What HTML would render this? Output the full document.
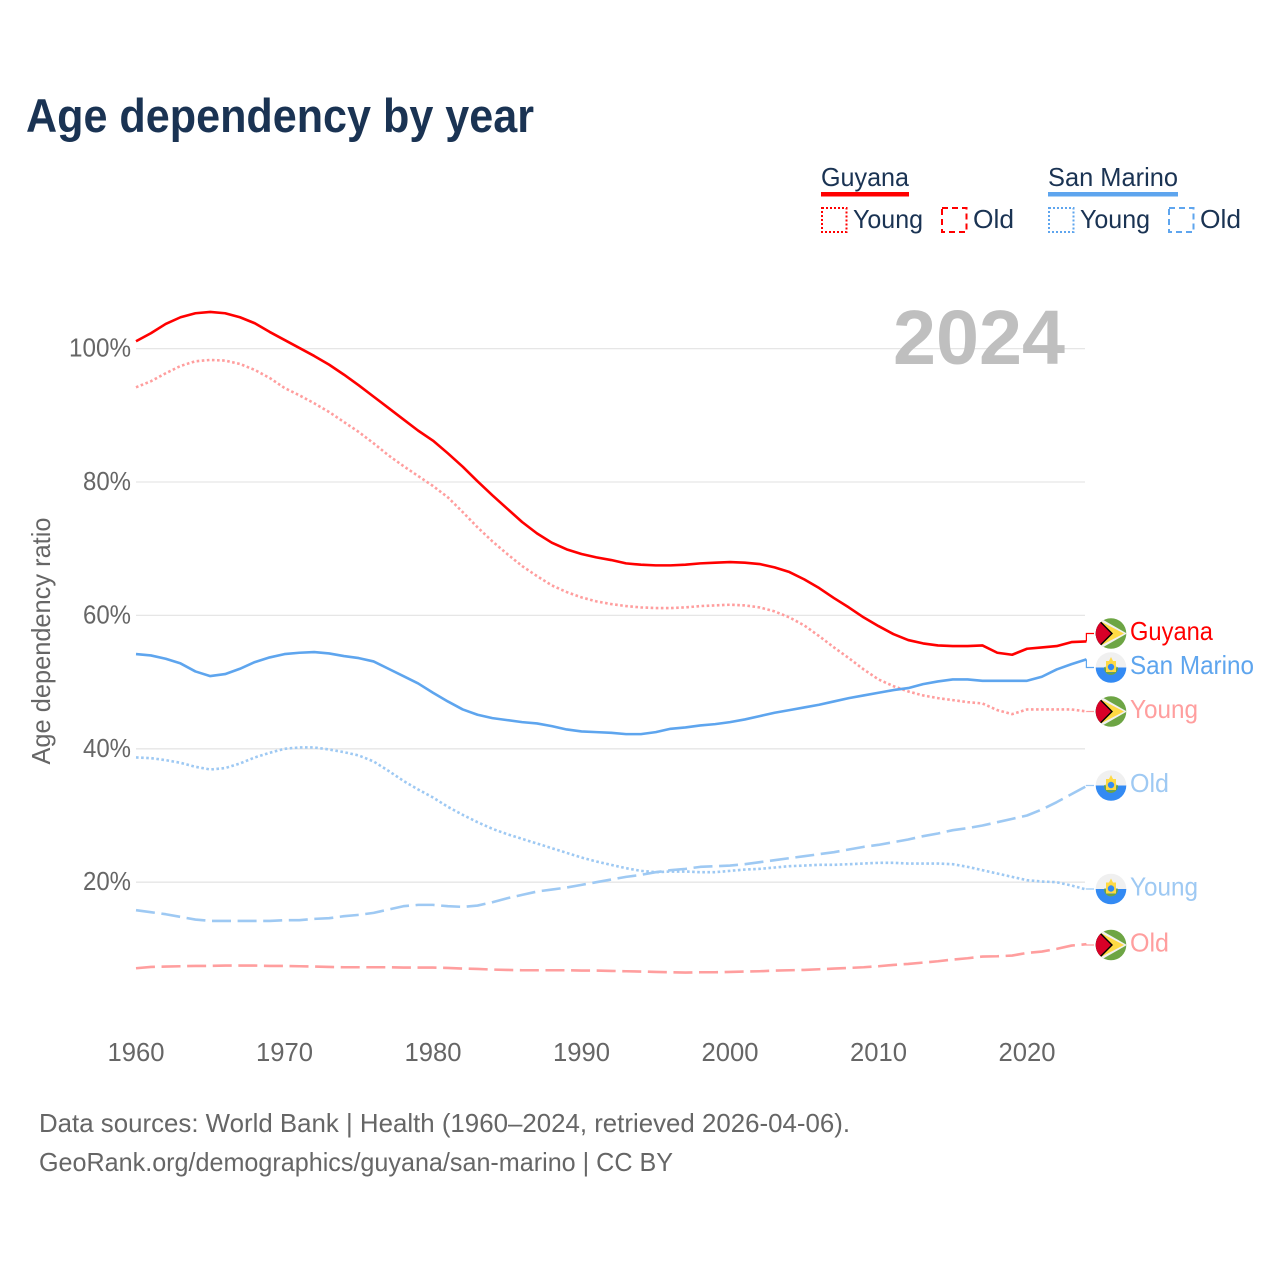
<!DOCTYPE html>
<html lang="en">
<head>
<meta charset="utf-8">
<title>Age dependency by year</title>
<style>
html,body{margin:0;padding:0;background:#fff;}
svg{display:block;font-family:"Liberation Sans",sans-serif;}
</style>
</head>
<body>
<svg id="chart" xmlns="http://www.w3.org/2000/svg" width="1280" height="1280" viewBox="0 0 1280 1280">
  <rect width="1280" height="1280" fill="#fff"/>
  <text x="26" y="132" font-size="47" font-weight="700" fill="#1a3353" textLength="508" lengthAdjust="spacingAndGlyphs">Age dependency by year</text>

  <g>
    <g>
      <text x="821" y="186" font-size="26" fill="#1a3353" textLength="88" lengthAdjust="spacingAndGlyphs">Guyana</text>
      <rect x="821" y="192" width="88" height="4.5" fill="#ff0000"/>
      <rect x="822" y="208" width="24.5" height="24" fill="none" stroke="#ff0000" stroke-width="2" stroke-dasharray="2 2"/>
      <text x="853" y="228" font-size="26" fill="#1a3353" textLength="70" lengthAdjust="spacingAndGlyphs">Young</text>
      <rect x="942" y="208" width="24.5" height="24" fill="none" stroke="#ff0000" stroke-width="2" stroke-dasharray="6 4"/>
      <text x="973" y="228" font-size="26" fill="#1a3353" textLength="41" lengthAdjust="spacingAndGlyphs">Old</text>
    </g>
    <g>
      <text x="1048" y="186" font-size="26" fill="#1a3353" textLength="130" lengthAdjust="spacingAndGlyphs">San Marino</text>
      <rect x="1048" y="192" width="130" height="4.5" fill="#5ea5ee"/>
      <rect x="1049" y="208" width="24.5" height="24" fill="none" stroke="#5ea5ee" stroke-width="2" stroke-dasharray="2 2"/>
      <text x="1080" y="228" font-size="26" fill="#1a3353" textLength="70" lengthAdjust="spacingAndGlyphs">Young</text>
      <rect x="1169" y="208" width="24.5" height="24" fill="none" stroke="#5ea5ee" stroke-width="2" stroke-dasharray="6 4"/>
      <text x="1200" y="228" font-size="26" fill="#1a3353" textLength="41" lengthAdjust="spacingAndGlyphs">Old</text>
    </g>
  </g>

  <g id="grid"></g>
  <g id="yticks"></g>
  <g id="xticks"></g>
  <text transform="translate(50,641) rotate(-90)" text-anchor="middle" font-size="26" fill="#666666" textLength="247" lengthAdjust="spacingAndGlyphs">Age dependency ratio</text>
  <text x="893" y="364" font-size="77" font-weight="700" fill="#bfbfbf" textLength="172" lengthAdjust="spacingAndGlyphs">2024</text>
  <g id="series"></g>

  <defs>
    <clipPath id="flag-clip"><circle cx="0" cy="0" r="15.3"/></clipPath>
    <g id="flag-guyana">
      <g clip-path="url(#flag-clip)">
        <rect x="-16" y="-16" width="32" height="32" fill="#6da544"/>
        <path d="M-12 -16 L16 0 L-12 16 Z" fill="#f0f0f0"/>
        <path d="M-12 -13 L13 0 L-12 13 Z" fill="#ffda44"/>
        <path d="M-16 -14 L-12 -14 L2 0 L-12 14 L-16 14 Z" fill="#000"/>
        <path d="M-16 -11 L-11 -11 L0 0 L-11 11 L-16 11 Z" fill="#d80027"/>
      </g>
    </g>
    <g id="flag-san-marino">
      <g clip-path="url(#flag-clip)">
        <rect x="-16" y="-16" width="32" height="16" fill="#f0f0f0"/>
        <rect x="-16" y="0" width="32" height="16" fill="#338af3"/>
        <path d="M-7 0 A7 7.5 0 0 0 7 0 L5.5 -1 A5.5 6 0 0 1 -5.5 -1 Z" fill="#6da544"/>
        <path d="M-5 -6.5 L-2 -6.5 L0 -10.5 L2 -6.5 L5 -6.5 L5 4.5 L-5 4.5 Z" fill="#ffda44"/>
        <circle cx="0" cy="-0.5" r="3.2" fill="#338af3"/>
      </g>
    </g>
  </defs>
  <g id="flags"></g>
  <g id="endlabels"></g>

  <g>
    <text x="39" y="1132" font-size="26" fill="#666666" textLength="811" lengthAdjust="spacingAndGlyphs">Data sources: World Bank | Health (1960–2024, retrieved 2026-04-06).</text>
    <text x="39" y="1171" font-size="26" fill="#666666" textLength="634" lengthAdjust="spacingAndGlyphs">GeoRank.org/demographics/guyana/san-marino | CC BY</text>
  </g>
</svg>

<script>
const firstYear = 1960;
const xTickYears = [1960, 1970, 1980, 1990, 2000, 2010, 2020];
const yTickValues = [20, 40, 60, 80, 100];

const guyanaTotal = [101.1,102.3,103.7,104.7,105.3,105.5,105.3,104.7,103.8,102.5,101.3,100.1,98.9,97.6,96.1,94.5,92.8,91.1,89.4,87.7,86.2,84.3,82.3,80.1,78,76,74,72.3,70.9,69.9,69.2,68.7,68.3,67.8,67.6,67.5,67.5,67.6,67.8,67.9,68,67.9,67.7,67.2,66.5,65.4,64.1,62.6,61.2,59.7,58.4,57.2,56.3,55.8,55.5,55.4,55.4,55.5,54.4,54.1,55,55.2,55.4,56,56.1];
const guyanaYoung = [94.2,95.1,96.3,97.4,98.1,98.3,98.2,97.7,96.8,95.6,94.1,93,91.8,90.5,89,87.5,85.8,84,82.4,80.9,79.4,77.7,75.5,73.2,71.1,69.2,67.4,65.9,64.5,63.5,62.7,62.1,61.7,61.4,61.2,61.1,61.1,61.2,61.4,61.5,61.6,61.5,61.2,60.6,59.7,58.5,56.9,55.2,53.6,51.9,50.4,49.4,48.6,48,47.6,47.3,47,46.8,45.8,45.2,45.9,45.9,45.9,45.9,45.6];
const guyanaOld = [7.1,7.3,7.35,7.4,7.45,7.45,7.5,7.5,7.5,7.45,7.45,7.4,7.35,7.3,7.25,7.25,7.25,7.25,7.2,7.2,7.2,7.15,7.05,7,6.9,6.85,6.8,6.8,6.8,6.8,6.75,6.75,6.7,6.65,6.6,6.55,6.5,6.45,6.5,6.5,6.55,6.6,6.65,6.75,6.8,6.85,6.95,7.05,7.15,7.25,7.4,7.6,7.75,7.95,8.15,8.4,8.6,8.85,8.9,9,9.4,9.6,10,10.5,10.7];
const sanMarinoTotal = [54.2,54,53.5,52.8,51.6,50.9,51.2,52,53,53.7,54.2,54.4,54.5,54.3,53.9,53.6,53.1,52,50.9,49.8,48.4,47.1,45.9,45.1,44.6,44.3,44,43.8,43.4,42.9,42.6,42.5,42.4,42.2,42.2,42.5,43,43.2,43.5,43.7,44,44.4,44.9,45.4,45.8,46.2,46.6,47.1,47.6,48,48.4,48.8,49.1,49.7,50.1,50.4,50.4,50.2,50.2,50.2,50.2,50.8,51.9,52.7,53.4];
const sanMarinoYoung = [38.7,38.6,38.3,37.9,37.3,36.9,37.1,37.8,38.7,39.4,40,40.2,40.2,39.9,39.5,39,38.1,36.7,35.2,33.9,32.7,31.3,30.1,29,28,27.2,26.5,25.8,25.1,24.4,23.7,23.1,22.6,22.1,21.7,21.5,21.6,21.6,21.5,21.5,21.7,21.9,22,22.2,22.4,22.5,22.6,22.6,22.7,22.8,22.9,22.9,22.8,22.8,22.8,22.7,22.3,21.8,21.3,20.8,20.3,20.1,20,19.5,18.9];
const sanMarinoOld = [15.8,15.5,15.2,14.8,14.4,14.2,14.2,14.2,14.2,14.2,14.3,14.3,14.5,14.6,14.9,15.1,15.4,15.9,16.4,16.6,16.6,16.4,16.3,16.5,17,17.6,18.1,18.6,18.9,19.2,19.6,20,20.4,20.8,21.1,21.5,21.8,22,22.3,22.4,22.5,22.7,23,23.3,23.6,23.9,24.2,24.5,24.9,25.3,25.6,26,26.4,26.9,27.3,27.8,28.1,28.5,29,29.5,30,30.9,32,33.2,34.4];

const NS = 'http://www.w3.org/2000/svg';
function xScale(year) { return 136 + (year - 1960) * 14.85; }
function yScale(v) { return 882.2 - (v - 20) * 6.67; }
function make(tag, attrs, parent, txt) {
  const el = document.createElementNS(NS, tag);
  for (const k in attrs) el.setAttribute(k, attrs[k]);
  if (txt !== undefined) el.textContent = txt;
  parent.appendChild(el);
  return el;
}

const gridG = document.getElementById('grid');
const yG = document.getElementById('yticks');
const xG = document.getElementById('xticks');
yTickValues.forEach(function (v) {
  const line = make('line', {x1: 136, x2: 1085, y1: yScale(v), y2: yScale(v), stroke: '#e6e6e6', 'stroke-width': 1.3}, gridG);
  
  
  const label = v + '%';
  const t = make('text', {x: 131, y: yScale(v) + 8, 'text-anchor': 'end', 'font-size': 26, fill: '#666666', textLength: v === 100 ? 62 : 48, lengthAdjust: 'spacingAndGlyphs'}, yG, label);
  
  
});
xTickYears.forEach(function (yr) {
  const t = make('text', {x: xScale(yr), y: 1061, 'text-anchor': 'middle', 'font-size': 26, fill: '#666666', textLength: 57, lengthAdjust: 'spacingAndGlyphs'}, xG, String(yr));
  
  
});

const seriesG = document.getElementById('series');
const flagsG = document.getElementById('flags');
const labelsG = document.getElementById('endlabels');

function drawSeries(name, values, color, dash, flag, text, labelY, labelW) {
  const pts = values.map(function (v, i) { return xScale(firstYear + i).toFixed(2) + ',' + yScale(v).toFixed(2); });
  const path = make('path', {d: 'M' + pts.join(' L'), fill: 'none', stroke: color, 'stroke-width': 2.6, 'stroke-linejoin': 'round'}, seriesG);
  if (dash) path.setAttribute('stroke-dasharray', dash);
  
  

  const endX = xScale(firstYear + values.length - 1);
  const endY = yScale(values[values.length - 1]);
  const conn = make('path', {d: 'M' + endX + ' ' + endY + ' L' + endX + ' ' + labelY + ' L1094 ' + labelY, fill: 'none', stroke: color, 'stroke-width': 1.2}, seriesG);
  
  

  const use = make('use', {href: '#flag-' + flag, transform: 'translate(1111,' + labelY + ')'}, flagsG);
  
  

  const t = make('text', {x: 1130, y: labelY + 6.5, 'font-size': 26, fill: color, textLength: labelW, lengthAdjust: 'spacingAndGlyphs'}, labelsG, text);
  
  
}

const RED = '#ff0000', BLUE = '#5ea5ee', LRED = '#ff9e9e', LBLUE = '#9ec9f3';
const DOT = '2.6 2.5', DASH = '19 6.6';
drawSeries('guyana-old', guyanaOld, LRED, DASH, 'guyana', 'Old', 945, 39);
drawSeries('san-marino-old', sanMarinoOld, LBLUE, DASH, 'san-marino', 'Old', 785.5, 39);
drawSeries('san-marino-young', sanMarinoYoung, LBLUE, DOT, 'san-marino', 'Young', 889, 68);
drawSeries('guyana-young', guyanaYoung, LRED, DOT, 'guyana', 'Young', 711.5, 68);
drawSeries('san-marino-total', sanMarinoTotal, BLUE, null, 'san-marino', 'San Marino', 667.5, 124);
drawSeries('guyana-total', guyanaTotal, RED, null, 'guyana', 'Guyana', 633.5, 83);
</script>
</body>
</html>
